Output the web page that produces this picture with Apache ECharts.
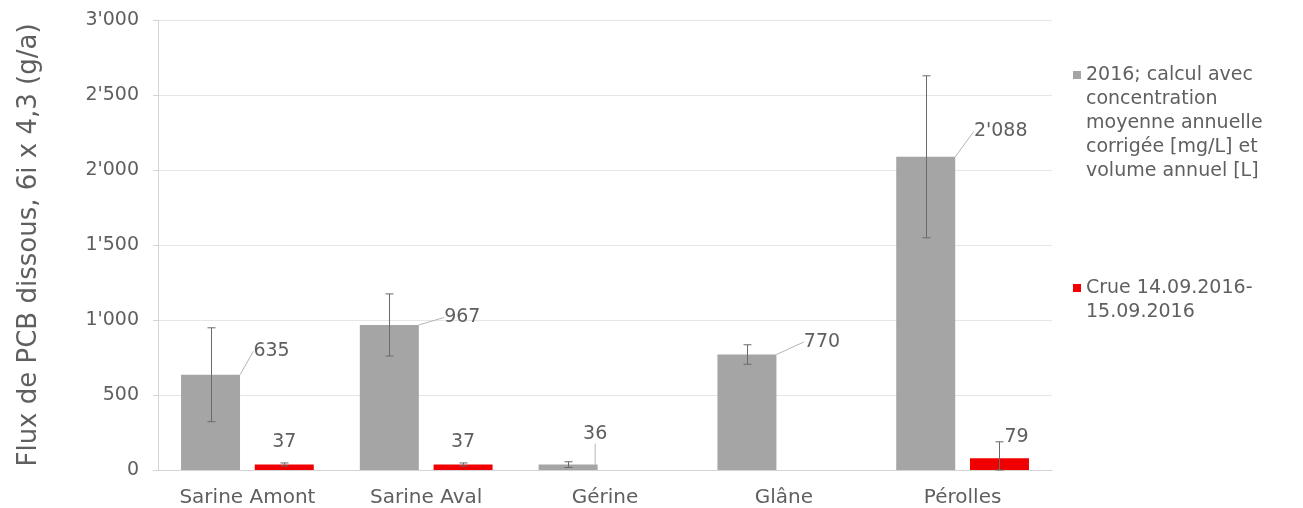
<!DOCTYPE html>
<html><head><meta charset="utf-8">
<script src="https://cdn.jsdelivr.net/npm/echarts@6/dist/echarts.min.js"></script>
<style>html,body{margin:0;padding:0;background:#fff}#c{width:1303px;height:508px}</style>
</head><body><div id="c"></div><script>
// ---- data ----
const categories = ['Sarine Amont', 'Sarine Aval', 'Gérine', 'Glâne', 'Pérolles'];
const annualName = '2016; calcul avec concentration moyenne annuelle corrigée [mg/L] et volume annuel [L]';
const floodName = 'Crue 14.09.2016-15.09.2016';
const annualValues = [635, 967, 36, 770, 2088];
const annualErrors = [313, 207, 19, 65, 540];
const floodValues = [37, 37, null, null, 79];
const floodErrors = [10, 10, null, null, 109];
const yMin = 0, yMax = 3000, yStep = 500;
const yTitle = 'Flux de PCB dissous, 6i x 4,3 (g/a)';
const legendLines = {};
legendLines[annualName] = ['2016; calcul avec', 'concentration', 'moyenne annuelle', 'corrigée [mg/L] et', 'volume annuel [L]'];
legendLines[floodName] = ['Crue 14.09.2016-', '15.09.2016'];

// ---- style / layout ----
const FONT = 'DejaVu Sans';
const TXT = '#5f5f5f';
const GRAY = '#a5a5a5';
const RED = '#f00000';
const BAR_W = 59;
const BAR_GAP = 0.25;
const annualLabelNudge = [[61, -9], [73, 7], [27, -16], [75, 2], [75, -11]];
const floodLabelNudge = [[0, -8], [0, -8], [0, 0], [0, 0], [17, -7]];

function fmt(v) { return String(Math.round(v)).replace(/\B(?=(\d{3})+(?!\d))/g, "'"); }

function errorSeries(values, errors, side) {
  const data = [];
  values.forEach((v, i) => { if (v != null) data.push([i, v, errors[i]]); });
  return {
    type: 'custom',
    data: data,
    encode: { x: 0, y: 1 },
    z: 5,
    silent: true,
    renderItem: function (params, api) {
      const i = api.value(0), v = api.value(1), e = api.value(2);
      const off = side * BAR_W * (1 + BAR_GAP) / 2;
      const top = api.coord([i, v + e]);
      const bot = api.coord([i, Math.max(yMin, v - e)]);
      const x = Math.round(top[0] + off) + 0.5;
      const cap = 4;
      const st = { stroke: '#6a6a6a', lineWidth: 1 };
      return {
        type: 'group', children: [
          { type: 'line', shape: { x1: x, y1: top[1], x2: x, y2: bot[1] }, style: st },
          { type: 'line', shape: { x1: x - cap, y1: top[1], x2: x + cap, y2: top[1] }, style: st },
          { type: 'line', shape: { x1: x - cap, y1: bot[1], x2: x + cap, y2: bot[1] }, style: st }
        ]
      };
    }
  };
}

const richBase = { fontFamily: FONT, fontSize: 19, color: TXT, lineHeight: 24 };
const chart = echarts.init(document.getElementById('c'));
chart.setOption({
  animation: false,
  backgroundColor: '#ffffff',
  grid: { left: 158, right: 251, top: 20, bottom: 37 },
  legend: {
    data: [annualName, floodName],
    orient: 'vertical', left: 1063, top: 58, itemGap: 93,
    icon: 'rect', itemWidth: 0, itemHeight: 0,
    selectedMode: false,
    formatter: function (name) {
      const key = name === annualName ? 'g' : 'r';
      return legendLines[name].map((l, i) => i === 0 ? '{' + key + '|}{t|' + l + '}' : '{t2|' + l + '}').join('\n');
    },
    textStyle: Object.assign({}, richBase, {
      rich: {
        g: { width: 8, height: 8, backgroundColor: GRAY, lineHeight: 24 },
        r: { width: 8, height: 8, backgroundColor: RED, lineHeight: 24 },
        t: Object.assign({ padding: [0, 0, 0, 5] }, richBase),
        t2: Object.assign({ padding: [0, 0, 0, 13] }, richBase)
      }
    })
  },
  xAxis: {
    type: 'category', data: categories,
    axisLine: { lineStyle: { color: '#d4d4d4' } },
    axisTick: { show: false },
    axisLabel: { fontFamily: FONT, fontSize: 20, color: TXT, margin: 18 }
  },
  yAxis: {
    type: 'value', min: yMin, max: yMax, interval: yStep,
    name: yTitle, nameLocation: 'middle', nameGap: 116,
    nameTextStyle: { fontFamily: FONT, fontSize: 26, color: TXT },
    axisLine: { show: true, lineStyle: { color: '#d4d4d4' } },
    axisTick: { show: true, length: 5, lineStyle: { color: '#d4d4d4' } },
    splitLine: { lineStyle: { color: '#e6e6e6' } },
    axisLabel: { fontFamily: FONT, fontSize: 19, color: TXT, margin: 19, formatter: fmt }
  },
  series: [
    {
      name: annualName, type: 'bar', data: annualValues,
      barWidth: BAR_W, barGap: (BAR_GAP * 100) + '%',
      itemStyle: { color: GRAY },
      label: { show: true, position: 'top', distance: 5, fontFamily: FONT, fontSize: 19, color: TXT, formatter: p => fmt(p.value) },
      labelLine: { show: true, lineStyle: { color: '#b5b5b5', width: 1 } },
      labelLayout: p => ({ dx: annualLabelNudge[p.dataIndex][0], dy: annualLabelNudge[p.dataIndex][1] })
    },
    {
      name: floodName, type: 'bar', data: floodValues,
      barWidth: BAR_W, barGap: (BAR_GAP * 100) + '%',
      itemStyle: { color: RED },
      label: { show: true, position: 'top', distance: 5, fontFamily: FONT, fontSize: 19, color: TXT, formatter: p => fmt(p.value) },
      labelLayout: p => ({ dx: floodLabelNudge[p.dataIndex][0], dy: floodLabelNudge[p.dataIndex][1] })
    },
    errorSeries(annualValues, annualErrors, -1),
    errorSeries(floodValues, floodErrors, 1)
  ]
});
</script></body></html>
